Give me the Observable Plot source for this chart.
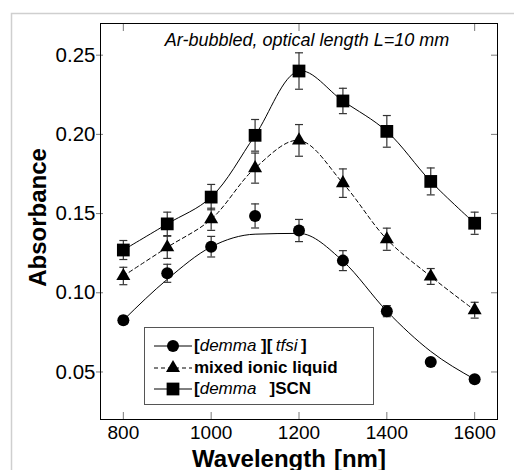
<!DOCTYPE html>
<html>
<head>
<meta charset="utf-8">
<script src="https://cdn.jsdelivr.net/npm/d3@7"></script>
<script src="https://cdn.jsdelivr.net/npm/@observablehq/plot@0.6"></script>
<style>
  html, body { margin: 0; padding: 0; background: #fff; overflow: hidden; }
  #wrap { position: relative; width: 514px; height: 470px; overflow: hidden; font-family: "Liberation Sans", Arial, sans-serif; }
  #chart svg { display: block; }
  #legend { position: absolute; left: 144px; top: 327px; width: 228px; height: 76px; border: 1px solid #555; background: #fff; }
  .row { position: absolute; left: 0; height: 22px; width: 228px; }
  .row svg { position: absolute; left: 8px; top: 0; }
  .row span { position: absolute; left: 49px; top: 1px; font-size: 17px; font-weight: bold; color: #000; white-space: pre; line-height: 20px; }
  .row i { font-weight: normal; }
</style>
</head>
<body>
<div id="wrap"><div id="chart"></div><div id="legend"></div></div>
<script>
// ---- data ----
const wavelengths = [800, 900, 1000, 1100, 1200, 1300, 1400, 1500, 1600];
const tfsi     = [0.0827, 0.1123, 0.1291, 0.1485, 0.1393, 0.1203, 0.0884, 0.0563, 0.0454];
const tfsiErr  = [0.0025, 0.0057, 0.0065, 0.0076, 0.0070, 0.0063, 0.0035, 0.0020, 0.0020];
const tfsiFit  = [0.0827, 0.1085, 0.1290, 0.1370, 0.1375, 0.1200, 0.0884, 0.0630, 0.0454];
const mixed    = [0.1106, 0.1287, 0.1464, 0.1787, 0.1962, 0.1692, 0.1338, 0.1103, 0.0890];
const mixedErr = [0.0055, 0.0070, 0.0070, 0.0095, 0.0100, 0.0090, 0.0070, 0.0050, 0.0050];
const scn      = [0.1270, 0.1435, 0.1604, 0.1994, 0.2400, 0.2211, 0.2019, 0.1703, 0.1439];
const scnErr   = [0.0060, 0.0074, 0.0080, 0.0100, 0.0115, 0.0080, 0.0100, 0.0085, 0.0070];
const xTicks = [800, 1000, 1200, 1400, 1600];
const xTopTicks = [800, 1200, 1600];
const yTicks = [0.05, 0.10, 0.15, 0.20, 0.25];
const titleText = ["Ar-bubbled, optical length L=10 mm"];
const xLabel = ["Wavelength\u2004[nm]"];
const yLabel = ["Absorbance"];

const rows = (vals, errs) => wavelengths.map((w, i) => ({w, v: vals[i], e: errs ? errs[i] : 0}));
const tfsiRows = rows(tfsi, tfsiErr), mixedRows = rows(mixed, mixedErr), scnRows = rows(scn, scnErr);
const fitRows = rows(tfsiFit);
const allErr = [...tfsiRows, ...mixedRows, ...scnRows];

const cap = {draw(ctx, size) { const r = Math.sqrt(size / Math.PI); ctx.moveTo(-r, 0); ctx.lineTo(r, 0); }};
const tickGray = "#7a7a7a";
const errColor = "#333";

const chart = Plot.plot({
  width: 514, height: 470,
  marginLeft: 100, marginRight: 17, marginTop: 23, marginBottom: 51,
  x: {domain: [748, 1652], label: null},
  y: {domain: [0.02, 0.27], label: null},
  style: {fontFamily: "'Liberation Sans', Arial, sans-serif", background: "#fff", color: "#000", overflow: "visible"},
  marks: [
    Plot.axisX({ticks: xTicks, tickSize: 0, tickPadding: 6, fontSize: 19, tickFormat: d3.format("d")}),
    Plot.axisX({ticks: xTicks, tickSize: -7, tickFormat: () => "", stroke: tickGray}),
    Plot.axisX({anchor: "top", ticks: xTopTicks, tickSize: -7, tickFormat: () => "", stroke: tickGray}),
    Plot.axisY({ticks: yTicks, tickSize: 4, tickPadding: 1, fontSize: 20.5, tickFormat: d3.format(".2f"), stroke: tickGray}),
    Plot.axisY({ticks: yTicks, tickSize: -3, tickFormat: () => "", stroke: tickGray}),
    Plot.axisY({anchor: "right", ticks: yTicks, tickSize: -7, tickFormat: () => "", stroke: tickGray}),
    Plot.line(fitRows, {x: "w", y: "v", curve: "monotone-x", stroke: "#000", strokeWidth: 1}),
    Plot.line(mixedRows, {x: "w", y: "v", curve: "catmull-rom", stroke: "#000", strokeWidth: 1, strokeDasharray: "4,3"}),
    Plot.line(scnRows, {x: "w", y: "v", curve: "catmull-rom", stroke: "#000", strokeWidth: 1}),
    Plot.ruleX(allErr, {x: "w", y1: d => d.v - d.e, y2: d => d.v + d.e, stroke: errColor, strokeWidth: 1.2}),
    Plot.dot(allErr, {x: "w", y: d => d.v + d.e, symbol: cap, r: 4, stroke: errColor, strokeWidth: 1.2}),
    Plot.dot(allErr, {x: "w", y: d => d.v - d.e, symbol: cap, r: 4, stroke: errColor, strokeWidth: 1.2}),
    Plot.dot(tfsiRows, {x: "w", y: "v", symbol: "circle", r: 6, fill: "#000", stroke: "none"}),
    Plot.dot(mixedRows, {x: "w", y: "v", symbol: "triangle", r: 5.2, fill: "#000", stroke: "none"}),
    Plot.dot(scnRows, {x: "w", y: "v", symbol: "square", r: 7.2, fill: "#000", stroke: "none"}),
    Plot.frame({stroke: "#000", strokeWidth: 1}),
    Plot.text(titleText, {text: d => d, frameAnchor: "top", dx: 8, dy: 22, fontSize: 18, fontStyle: "italic", lineAnchor: "bottom", fill: "#000"}),
    Plot.text(xLabel, {text: d => d, frameAnchor: "bottom", dx: -10, dy: 47, fontSize: 24, fontWeight: "bold", lineAnchor: "bottom", fill: "#000"}),
    Plot.text(yLabel, {text: d => d, frameAnchor: "left", textAnchor: "middle", dx: -55, dy: -4, rotate: -90, fontSize: 24, fontWeight: "bold", lineAnchor: "bottom", fill: "#000"})
  ]
});
// decorative outer panel border (light gray), as in the source figure
d3.select(chart).insert("path", ":first-child")
  .attr("d", "M11.5,470V13.5H514")
  .attr("fill", "none").attr("stroke", "#cfcfcf").attr("stroke-width", 1.5);
document.getElementById("chart").appendChild(chart);

// ---- legend ----
const legendItems = [
  {html: "[<i>demma</i> ][\u2009<i>tfsi</i>\u2009]", symbol: d3.symbolCircle, r: 6, dash: null},
  {html: "mixed ionic liquid", symbol: d3.symbolTriangle, r: 5.2, dash: "4,3"},
  {html: "[<i>demma</i>\u2002 ]SCN", symbol: d3.symbolSquare, r: 7.2, dash: null}
];
const legend = d3.select("#legend");
legendItems.forEach((it, i) => {
  const row = legend.append("div").attr("class", "row").style("top", (7 + i * 21.5) + "px");
  const svg = row.append("svg").attr("width", 40).attr("height", 22);
  svg.append("line").attr("x1", 1).attr("x2", 39).attr("y1", 11).attr("y2", 11)
    .attr("stroke", "#000").attr("stroke-width", 1).attr("stroke-dasharray", it.dash);
  svg.append("path").attr("transform", "translate(20,11)")
    .attr("d", d3.symbol(it.symbol, it.r * it.r * Math.PI)()).attr("fill", "#000");
  row.append("span").html(it.html);
});
</script>
</body>
</html>
